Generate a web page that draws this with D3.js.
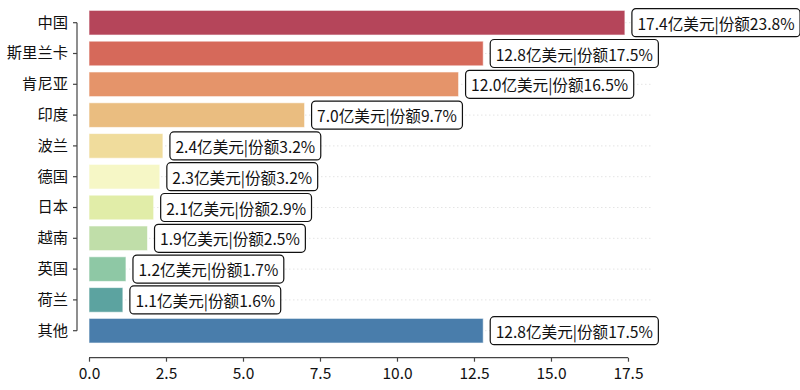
<!DOCTYPE html>
<html><head><meta charset="utf-8">
<script src="https://cdn.jsdelivr.net/npm/d3@7/dist/d3.min.js"></script>
<style>
body{margin:0;background:#fff;}
text{font-family:"Noto Sans CJK SC","Noto Sans",sans-serif;}
</style></head>
<body><svg id="c" width="800" height="390"></svg>
<script>
const categories = ["中国","斯里兰卡","肯尼亚","印度","波兰","德国","日本","越南","英国","荷兰","其他"];
const values = [17.4,12.8,12.0,7.0,2.4,2.3,2.1,1.9,1.2,1.1,12.8];
const shares = [23.8,17.5,16.5,9.7,3.2,3.2,2.9,2.5,1.7,1.6,17.5];
const colors = ["#b5455a","#d6695a","#e5946a","#eabd80","#f0dc9c","#f6f7c6","#e1eda8","#c0dea9","#8ec8a5","#5ca3a0","#497dab"];
const xTicks = [0,2.5,5,7.5,10,12.5,15,17.5];

const svg = d3.select("#c");
const x = d3.scaleLinear().domain([0,18.28]).range([89,652]);
const y = d3.scaleBand().domain(categories).range([7.3,346.1]).paddingInner(0.2).paddingOuter(0.1);
const cy = c => y(c) + y.bandwidth()/2;
const axisColor = "#444";

// grid
svg.append("g").selectAll("line").data(categories).join("line")
  .attr("x1", x(0)).attr("x2", x.range()[1])
  .attr("y1", d=>cy(d)).attr("y2", d=>cy(d))
  .attr("stroke","#e4e4e4").attr("stroke-width",1).attr("stroke-dasharray","1.5,2.5");

// bars
svg.append("g").selectAll("rect").data(categories).join("rect")
  .attr("x", x(0)).attr("y", d=>y(d))
  .attr("width", (d,i)=>x(values[i])-x(0)).attr("height", y.bandwidth())
  .attr("fill",(d,i)=>colors[i])
  .attr("stroke","#fff").attr("stroke-opacity",0.6).attr("stroke-width",1);

// labels
const lg = svg.append("g").selectAll("g").data(categories).join("g");
lg.each(function(d,i){
  const g = d3.select(this);
  const t = g.append("text")
    .attr("x", x(values[i]) + 12.5).attr("y", cy(d))
    .attr("dominant-baseline","central")
    .attr("font-size",15.6).attr("fill","#111")
    .text(values[i].toFixed(1)+"亿美元|份额"+shares[i].toFixed(1)+"%");
  const bb = t.node().getBBox();
  g.insert("rect","text")
    .attr("x", bb.x-5.5).attr("y", cy(d)-14)
    .attr("width", bb.width+11).attr("height",28)
    .attr("rx",4).attr("ry",4)
    .attr("fill","#fff").attr("stroke","#111").attr("stroke-width",1.2);
});

// x axis
const xa = svg.append("g").attr("transform","translate(0,357.7)")
  .call(d3.axisBottom(x).tickValues(xTicks).tickFormat(d3.format(".1f")).tickSizeOuter(0).tickSize(4).tickPadding(6));
xa.select(".domain").remove();
xa.append("line").attr("x1",x(0)).attr("x2",x(17.5)).attr("stroke",axisColor).attr("stroke-width",1.2);
xa.selectAll(".tick line").attr("stroke",axisColor).attr("stroke-width",1.2);
xa.selectAll(".tick text").attr("font-size",15.5).attr("fill","#111").attr("font-family","\"Noto Sans\",\"Noto Sans CJK SC\",sans-serif");

// y axis
const ya = svg.append("g").attr("transform","translate(77,0)")
  .call(d3.axisLeft(y).tickSize(4).tickPadding(5).tickSizeOuter(0));
ya.select(".domain").remove();
ya.append("line").attr("y1",cy(categories[0])).attr("y2",cy(categories[categories.length-1])).attr("stroke",axisColor).attr("stroke-width",1.2);
ya.selectAll(".tick line").attr("stroke",axisColor).attr("stroke-width",1.2);
ya.selectAll(".tick text").attr("font-size",15.3).attr("fill","#111");
</script></body></html>
